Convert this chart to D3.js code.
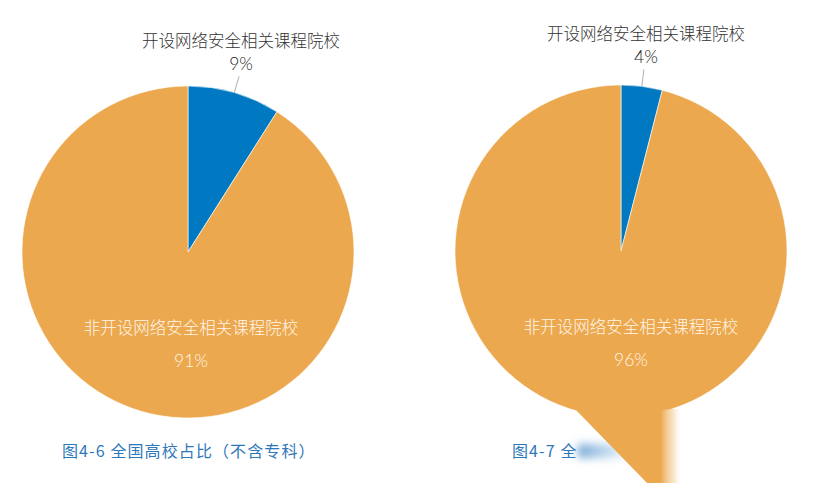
<!DOCTYPE html>
<html lang="zh">
<head>
  <meta charset="UTF-8">
  <title>全国高校占比</title>
  <script src="https://cdn.jsdelivr.net/npm/d3@7"></script>
  <style>
  body{ margin:0; background:#fff; }
  .etiqueta{
    font-family: 'Noto Sans CJK SC', sans-serif;
    font-weight: 300;
    font-size: 16.5px;
    fill: #333;
  }
  .cifra{
    font-family: 'Lato', 'Noto Sans CJK SC', sans-serif;
    font-weight: 300;
    font-size: 17.5px;
    fill: #222;
  }
  .interior{ fill: #fff6e8 !important; }
  .guia{ stroke: #9a9a9a; stroke-width: 0.8; fill: none; }
  .pie-titulo{
    font-family: 'Noto Sans CJK SC', sans-serif;
    font-size: 16px;
    letter-spacing: 1.1px;
    fill: #2e78ba;
    white-space: pre;
  }
  </style>
</head>
<body>
  <div id="grafico"></div>

  <script>
    // data
    var categorias = ['开设网络安全相关课程院校', '非开设网络安全相关课程院校'];
    var valoresSinEspecial = [9, 91];    // 图4-6
    var valoresConEspecial = [4, 96];    // 图4-7
    var titulos = ['图4-6 全国高校占比（不含专科）', '图4-7 全'];

    var w = 821;
    var h = 483;
    var radio = 166;
    var colores = ['#0179c2', '#eca84e'];

    var svg = d3.select("#grafico")
      .append("svg")
      .attr("width", w)
      .attr("height", h);

    var defs = svg.append("defs");

    var color = d3.scaleOrdinal()
      .domain(categorias)
      .range(colores);

    var pie = d3.pie()
      .sort(null)
      .value(function(d){ return d.valor; });

    var arco = d3.arc().innerRadius(0).outerRadius(radio);

    var graficos = [
      {valores: valoresSinEspecial, cx: 188, cy: 252, dxInt: 3, titulo: titulos[0], tx: 62},
      {valores: valoresConEspecial, cx: 621, cy: 251, dxInt: 10, titulo: titulos[1], tx: 512}
    ];

    graficos.forEach(function(g){
      var datos = categorias.map(function(c, i){
        return {categoria: c, valor: g.valores[i]};
      });
      var porciones = pie(datos);

      var grupo = svg.append("g")
        .attr("transform", "translate(" + g.cx + "," + g.cy + ")");

      grupo.selectAll("path")
        .data(porciones)
        .enter()
        .append("path")
        .attr("d", arco)
        .attr("fill", function(d){ return color(d.data.categoria); })
        .attr("stroke", "#fff")
        .attr("stroke-width", 0.6);

      // etiqueta exterior de la porcion pequena
      var p = porciones[0];
      var medio = (p.startAngle + p.endAngle) / 2;
      var r0 = radio, r1 = radio + 17;
      var x1 = Math.sin(medio) * r1, y1 = -Math.cos(medio) * r1;
      grupo.append("line")
        .attr("class", "guia")
        .attr("x1", Math.sin(medio) * r0)
        .attr("y1", -Math.cos(medio) * r0)
        .attr("x2", x1)
        .attr("y2", y1);

      grupo.append("text")
        .attr("class", "etiqueta")
        .attr("text-anchor", "middle")
        .attr("x", x1 + 2)
        .attr("y", y1 - 29)
        .text(p.data.categoria);
      grupo.append("text")
        .attr("class", "cifra")
        .attr("text-anchor", "middle")
        .attr("x", x1 + 2)
        .attr("y", y1 - 6)
        .text(p.data.valor + '%');

      // etiqueta interior de la porcion grande
      var q = porciones[1];
      grupo.append("text")
        .attr("class", "etiqueta interior")
        .attr("text-anchor", "middle")
        .attr("x", g.dxInt)
        .attr("y", 82)
        .text(q.data.categoria);
      grupo.append("text")
        .attr("class", "cifra interior")
        .attr("text-anchor", "middle")
        .attr("x", g.dxInt)
        .attr("y", 115)
        .text(q.data.valor + '%');

      svg.append("text")
        .attr("class", "pie-titulo")
        .attr("x", g.tx)
        .attr("y", 457)
        .text(g.titulo);
    });

    // mancha de la imagen original (zona inferior derecha)
    var gradAzul = defs.append("linearGradient").attr("id", "gradAzul");
    gradAzul.append("stop").attr("offset", "0%").attr("stop-color", "#4f8fca").attr("stop-opacity", 0.8);
    gradAzul.append("stop").attr("offset", "60%").attr("stop-color", "#8ab8e0").attr("stop-opacity", 0.5);
    gradAzul.append("stop").attr("offset", "100%").attr("stop-color", "#b5d3ee").attr("stop-opacity", 0);
    defs.append("filter").attr("id", "difuso")
      .attr("x", "-30%").attr("y", "-80%").attr("width", "160%").attr("height", "260%")
      .append("feGaussianBlur").attr("stdDeviation", 4);

    svg.append("rect")
      .attr("x", 578).attr("y", 444)
      .attr("width", 55).attr("height", 14)
      .attr("fill", "url(#gradAzul)")
      .attr("filter", "url(#difuso)");

    var gradNaranja = defs.append("linearGradient").attr("id", "gradNaranja")
      .attr("gradientUnits", "userSpaceOnUse")
      .attr("x1", 575).attr("x2", 682).attr("y1", 0).attr("y2", 0);
    gradNaranja.append("stop").attr("offset", "80%").attr("stop-color", colores[1]).attr("stop-opacity", 1);
    gradNaranja.append("stop").attr("offset", "93%").attr("stop-color", "#f6d9b0").attr("stop-opacity", 0.6);
    gradNaranja.append("stop").attr("offset", "100%").attr("stop-color", "#ffffff").attr("stop-opacity", 0);

    svg.append("path")
      .attr("d", "M575,409 L682,409 L682,483 L647,483 Z")
      .attr("fill", "url(#gradNaranja)");
  </script>
</body>
</html>
